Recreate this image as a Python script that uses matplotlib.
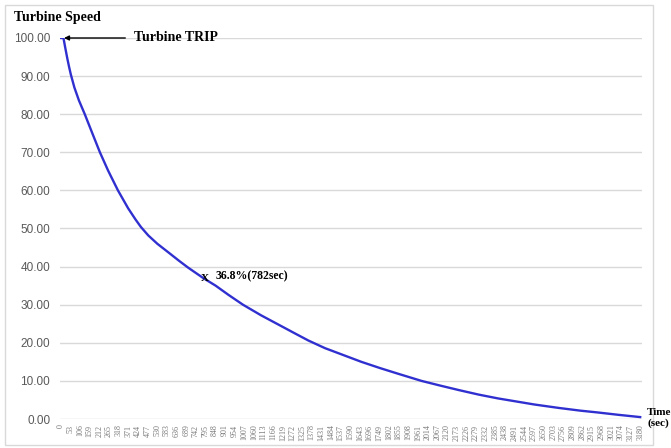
import numpy as np
import matplotlib
matplotlib.use("Agg")
import matplotlib.pyplot as plt
from matplotlib.patches import Rectangle

# ---------------- data ----------------
time_sec = [0, 15, 25, 35, 45, 55, 75, 100, 132, 170, 215, 260, 314, 370, 410, 440,
            480, 530, 589, 650, 700, 782, 850, 920, 1000, 1100, 1194, 1280, 1359,
            1450, 1550, 1650, 1750, 1850, 1980, 2080, 2184, 2294, 2400, 2500, 2600,
            2734, 2850, 2950, 3060, 3180]
speed = [100, 100, 97.4, 94.9, 92.6, 90.5, 87.0, 83.6, 80.0, 75.4, 70.0, 65.2, 60.0,
         55.3, 52.4, 50.4, 48.2, 46.0, 43.8, 41.5, 39.7, 37.0, 35.0, 32.6, 30.0, 27.2,
         24.8, 22.6, 20.6, 18.6, 16.8, 15.0, 13.4, 11.9, 10.0, 8.8, 7.6, 6.4, 5.4,
         4.6, 3.8, 2.9, 2.2, 1.7, 1.1, 0.5]
xtick_values = list(range(0, 3181, 53))
ytick_values = [0, 10, 20, 30, 40, 50, 60, 70, 80, 90, 100]
tau_time = 782
tau_speed = 36.8

# ---------------- figure ----------------
fig = plt.figure(figsize=(6.71, 4.48), dpi=100)
ax = fig.add_axes([60 / 671, 29 / 448, 582 / 671, 381 / 448])

# outer chart border
fig.patches.append(Rectangle((5 / 671, 3 / 448), 648 / 671, 440 / 448,
                             transform=fig.transFigure, fill=False,
                             edgecolor="#d9d9d9", linewidth=1))

ax.plot(time_sec, speed, color="#3030d0", linewidth=1.7, zorder=3)

ax.set_xlim(-4, 3190)
ax.set_ylim(0, 100)
ax.set_yticks(ytick_values)
ax.set_yticklabels([f"{v:.2f}" for v in ytick_values], fontsize=8.5,
                   color="#595959", family="Liberation Sans")
ax.set_xticks(xtick_values)
ax.set_xticklabels([str(v) for v in xtick_values], rotation=90, fontsize=5.8,
                   color="#777777", family="Liberation Serif")
ax.tick_params(axis="y", length=0, pad=7)
ax.tick_params(axis="x", length=0, pad=4)
ax.grid(axis="y", color="#d9d9d9", linewidth=1)
ax.set_axisbelow(True)
for s in ax.spines.values():
    s.set_visible(False)

# titles and annotations
serif_bold = dict(family="Liberation Serif", fontweight="bold", color="black")
fig.text(14 / 671, 1 - 17 / 448, "Turbine Speed", fontsize=10, va="center", **serif_bold)
ax.annotate("Turbine TRIP", xy=(18, 100), xytext=(400, 100),
            fontsize=10, va="center", ha="left",
            arrowprops=dict(arrowstyle="-|>", color="black", lw=1, mutation_scale=7,
                            shrinkA=4, shrinkB=0), **serif_bold)
ax.text(tau_time + 10, tau_speed, "X", fontsize=8, ha="center", va="center", **serif_bold)
ax.text(tau_time + 65, tau_speed + 0.6, f"{tau_speed}%({tau_time}sec)", fontsize=8.5,
        ha="left", va="center", **serif_bold)
fig.text(647 / 671, 1 - 418 / 448, "Time\n(sec)", fontsize=8, va="center",
         linespacing=1.1, **serif_bold)

plt.savefig("out.png", dpi=100)
